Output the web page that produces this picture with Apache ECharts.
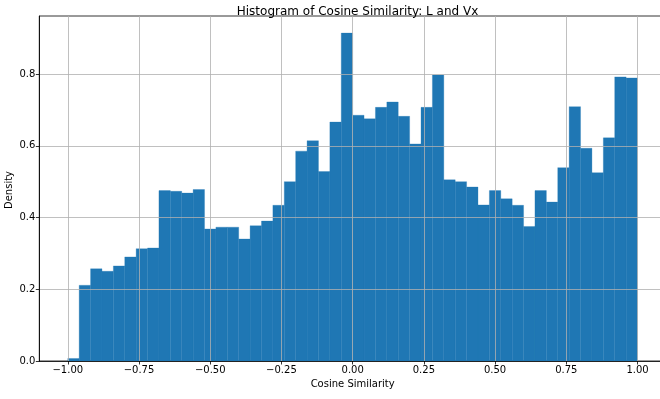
<!DOCTYPE html>
<html>
<head>
<meta charset="utf-8">
<script src="https://cdn.jsdelivr.net/npm/echarts@6/dist/echarts.min.js"></script>
<style>html,body{margin:0;padding:0;background:#fff}#c{width:660px;height:399px}</style>
</head>
<body>
<div id="c"></div>
<script>
const TITLE = 'Histogram of Cosine Similarity: L and Vx';
const X_LABEL = 'Cosine Similarity';
const Y_LABEL = 'Density';
const BIN_START = -1.0;
const BIN_WIDTH = 0.04;
const densities = [
  0.007, 0.211, 0.257, 0.250, 0.265, 0.290, 0.313, 0.315, 0.475, 0.473,
  0.468, 0.478, 0.368, 0.373, 0.373, 0.340, 0.377, 0.390, 0.434, 0.500,
  0.585, 0.614, 0.528, 0.666, 0.914, 0.685, 0.675, 0.707, 0.722, 0.682,
  0.605, 0.707, 0.797, 0.505, 0.500, 0.485, 0.435, 0.475, 0.452, 0.434,
  0.375, 0.475, 0.443, 0.539, 0.709, 0.593, 0.525, 0.622, 0.792, 0.789
];
const xTicks = [-1.0, -0.75, -0.5, -0.25, 0.0, 0.25, 0.5, 0.75, 1.0];
const yTicks = [0.0, 0.2, 0.4, 0.6, 0.8];

const bins = densities.map((d, i) => [BIN_START + i * BIN_WIDTH, BIN_START + (i + 1) * BIN_WIDTH, d]);
const minus = s => s.replace('-', '\u2212');
const FONT = 'DejaVu Sans';

const chart = echarts.init(document.getElementById('c'), null, {renderer: 'canvas'});
chart.setOption({
  animation: false,
  backgroundColor: '#fff',
  title: {
    text: TITLE, left: 352.5, top: 1, textAlign: 'center',
    textStyle: {fontFamily: FONT, fontSize: 12, fontWeight: 'normal', color: '#000'}
  },
  graphic: [{
    type: 'text', x: 9.5, y: 190, rotation: Math.PI / 2,
    style: {text: Y_LABEL, fontFamily: FONT, fontSize: 10, fill: '#000', align: 'center', verticalAlign: 'middle'}
  }],
  grid: {left: 39.3, top: 16, bottom: 38, right: -6, containLabel: false, outerBoundsMode: 'none',
    show: true, borderColor: '#000', borderWidth: 0.8, backgroundColor: 'transparent'},
  xAxis: {
    type: 'value', min: -1.1, max: 1.1, z: 5,
    name: X_LABEL, nameLocation: 'middle', nameGap: 18, nameMoveOverlap: false,
    nameTextStyle: {fontFamily: FONT, fontSize: 10, color: '#000'},
    axisLine: {show: true, onZero: false, lineStyle: {color: '#000', width: 0.8}},
    axisTick: {show: true, length: 3.5, customValues: xTicks, lineStyle: {color: '#000', width: 0.8}},
    axisLabel: {customValues: xTicks, margin: 4, fontFamily: FONT, fontSize: 10, color: '#000',
      formatter: v => minus(v.toFixed(2))},
    splitLine: {show: true, lineStyle: {color: '#b0b0b0', width: 0.8}}
  },
  yAxis: {
    type: 'value', min: 0, max: 0.9617, z: 5,
    axisLine: {show: true, onZero: false, lineStyle: {color: '#000', width: 0.8}},
    axisTick: {show: true, length: 3.5, customValues: yTicks, lineStyle: {color: '#000', width: 0.8}},
    axisLabel: {customValues: yTicks, margin: 4, fontFamily: FONT, fontSize: 10, color: '#000',
      formatter: v => v.toFixed(1)},
    splitLine: {show: true, lineStyle: {color: '#b0b0b0', width: 0.8}}
  },
  series: [{
    type: 'custom',
    z: 2,
    data: bins,
    encode: {x: [0, 1], y: 2},
    renderItem: (params, api) => {
      const p0 = api.coord([api.value(0), api.value(2)]);
      const p1 = api.coord([api.value(1), 0]);
      return {
        type: 'rect',
        shape: {x: p0[0], y: p0[1], width: p1[0] - p0[0], height: p1[1] - p0[1]},
        style: {fill: '#1f77b4', stroke: '#1f77b4', lineWidth: 0.3}
      };
    }
  }]
});
</script>
</body>
</html>
